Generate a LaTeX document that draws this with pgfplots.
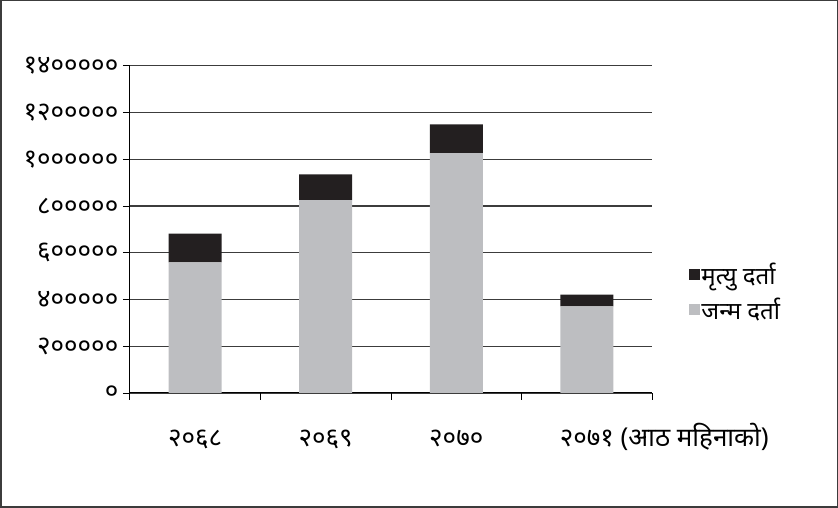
\documentclass[border=0pt]{standalone}
\usepackage{pgfplots}
\pgfplotsset{compat=1.18}
\usepackage{fontspec}
\setmainfont{Noto Sans}
\newfontfamily\deva[Script=Devanagari]{Noto Sans}
\definecolor{barblack}{RGB}{35,31,32}
\definecolor{bargray}{RGB}{189,190,193}
\definecolor{gridc}{RGB}{60,60,60}
\begin{document}
\begin{tikzpicture}
\draw[line width=1.5bp, color=gridc] (1bp,1bp) rectangle (837bp,507bp);
\begin{axis}[
  at={(130bp,115bp)}, anchor=south west,
  scale only axis, width=522bp, height=327bp,
  ybar stacked, bar width=53bp,
  xmin=-0.5, xmax=3.5, ymin=0, ymax=1400000,
  axis x line*=bottom, axis y line*=left,
  axis line style={line width=1bp, color=black},
  xtick={0,1,2,3},
  xticklabels={{२०६८},{२०६९},{२०७०},{२०७१\rlap{ (आठ महिनाको)}}},
  minor xtick={-0.5,0.5,1.5,2.5,3.5},
  major x tick style={draw=none},
  minor x tick style={black, line width=0.8bp},
  minor tick length=7bp,
  ytick={0,200000,400000,600000,800000,1000000,1200000,1400000},
  yticklabels={{०},{२०००००},{४०००००},{६०००००},{८०००००},{१००००००},{१२०००००},{१४०००००}},
  major y tick style={black, line width=0.8bp},
  major tick length=7bp,
  tick align=outside,
  ymajorgrids, grid style={line width=1.2bp, color=gridc},
  yticklabel style={font=\deva\fontsize{26bp}{28bp}\selectfont, xshift=-1bp},
  xticklabel style={font=\deva\fontsize{26bp}{28bp}\selectfont, anchor=base, yshift=-46bp},
  scaled y ticks=false,
  legend style={at={(1.071,0.31)}, anchor=west, draw=none, fill=none,
    font=\deva\fontsize{24bp}{26bp}\selectfont, row sep=10bp,
    legend cell align=left, inner sep=0pt,
    nodes={inner sep=1bp}},
  legend image code/.code={\fill[#1] (0bp,-5.5bp) rectangle (11bp,5.5bp);},
  reverse legend,
]
\addplot[fill=bargray, draw=none] coordinates {(0,559000) (1,825000) (2,1026000) (3,371000)};
\addplot[fill=barblack, draw=none] coordinates {(0,123000) (1,110000) (2,123000) (3,50000)};
\legend{{जन्म दर्ता},{मृत्यु दर्ता}}
\end{axis}
\end{tikzpicture}
\end{document}
